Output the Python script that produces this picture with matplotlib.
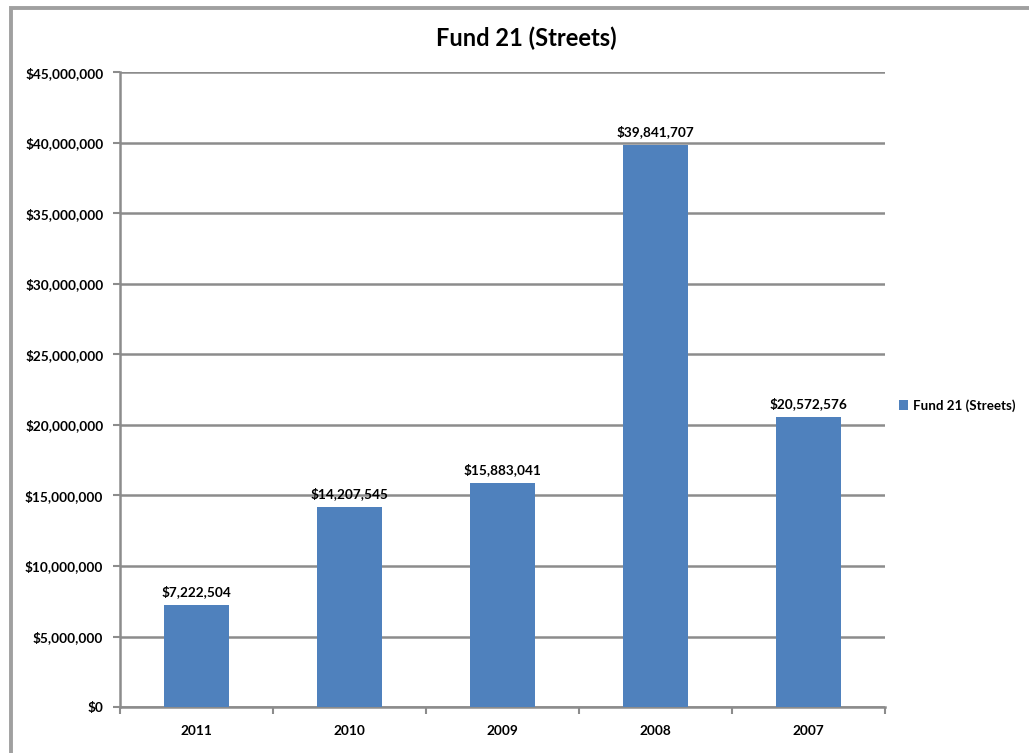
import matplotlib.pyplot as plt
from matplotlib.patches import Rectangle
import numpy as np

# Datos
anios = ['2011', '2010', '2009', '2008', '2007']
valores = [7222504, 14207545, 15883041, 39841707, 20572576]
serie = 'Fund 21 (Streets)'
color_barra = '#4F81BD'
gris = '#8c8c8c'

plt.rcParams['font.family'] = ['Lato', 'DejaVu Sans']
plt.rcParams['font.weight'] = 'bold'

fig = plt.figure(figsize=(10.29, 7.53), dpi=100)
ax = fig.add_axes([0.1166, 0.061, 0.7434, 0.843])

# Marco del area del grafico
fig.patches.append(Rectangle((11 / 1029, -0.1), 1.2, 1.1 - 8 / 753, transform=fig.transFigure,
                             fill=False, edgecolor='#a0a0a0', linewidth=2.8, zorder=0))

x = np.arange(len(anios))
barras = ax.bar(x, valores, width=0.42, color=color_barra, label=serie, zorder=3)

for xi, v in zip(x, valores):
    ax.text(xi, v + 500000, '${:,}'.format(v), ha='center', va='bottom', fontsize=9.8, fontweight='bold')

ax.set_xlim(-0.5, len(anios) - 0.5)
ax.set_ylim(0, 45000000)
ax.set_yticks(np.arange(0, 45000001, 5000000))
ax.set_yticklabels(['${:,}'.format(int(t)) for t in ax.get_yticks()], fontsize=9.8, fontweight='bold')

ax.set_xticks(x)
ax.set_xticklabels(anios, fontsize=9.8, fontweight='bold')
ax.set_xticks(np.arange(-0.5, len(anios), 1), minor=True)
ax.tick_params(axis='x', which='major', length=0, pad=13)
ax.tick_params(axis='x', which='minor', length=5, color=gris, width=1.5, direction='out')
ax.tick_params(axis='y', length=5, color=gris, width=1.5, direction='out', pad=7)

ax.grid(axis='y', color=gris, linewidth=1.8, zorder=0)
for s in ['top', 'right']:
    ax.spines[s].set_visible(False)
for s in ['left', 'bottom']:
    ax.spines[s].set_color(gris)
    ax.spines[s].set_linewidth(1.8)

fig.text(0.511, 1 - 38 / 753, serie, ha='center', va='center', fontsize=17, fontweight='bold')

ax.legend(loc='center left', bbox_to_anchor=(1.006, 0.475), frameon=False, fontsize=9.6,
          handlelength=0.7, handleheight=0.7, handletextpad=0.35, borderpad=0.2)

fig.savefig('out.png', dpi=100)
